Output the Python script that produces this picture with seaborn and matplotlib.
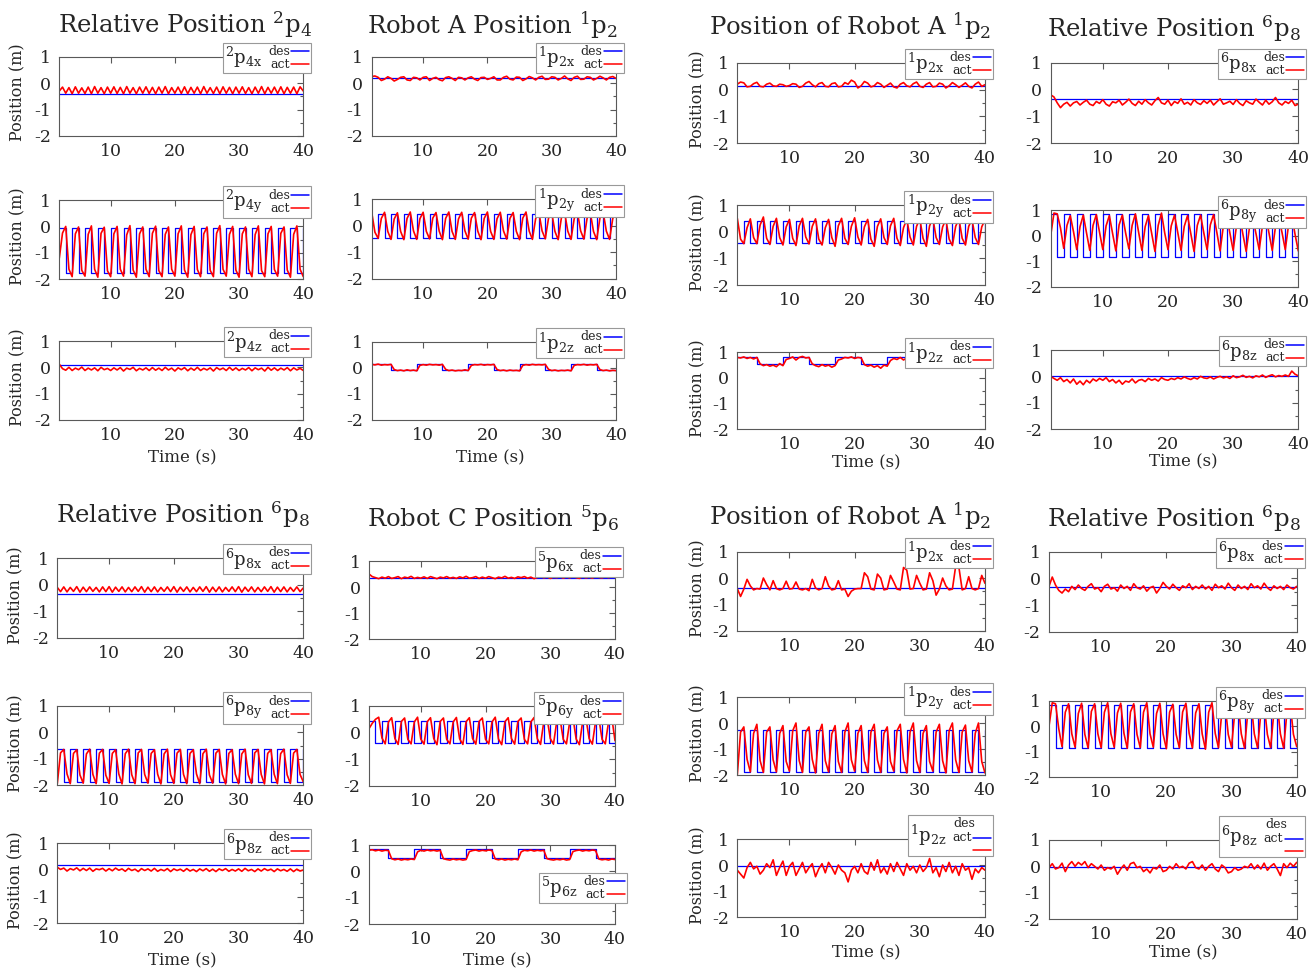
import matplotlib
matplotlib.use('Agg')
import matplotlib.pyplot as plt
import seaborn as sns
from matplotlib.ticker import MultipleLocator
from matplotlib.offsetbox import AnchoredOffsetbox, TextArea, HPacker, VPacker, DrawingArea
from matplotlib.lines import Line2D

sns.set_style('white')
plt.rcParams['font.family'] = 'DejaVu Serif'
plt.rcParams['mathtext.fontset'] = 'dejavuserif'
plt.rcParams['axes.unicode_minus'] = False

# ---------------- data ----------------
# sample times of the measured ("act") traces
t_act = [2.0, 2.5, 3.0, 3.5, 4.0, 4.5, 5.0, 5.5,
         6.0, 6.5, 7.0, 7.5, 8.0, 8.5, 9.0, 9.5,
         10.0, 10.5, 11.0, 11.5, 12.0, 12.5, 13.0, 13.5,
         14.0, 14.5, 15.0, 15.5, 16.0, 16.5, 17.0, 17.5,
         18.0, 18.5, 19.0, 19.5, 20.0, 20.5, 21.0, 21.5,
         22.0, 22.5, 23.0, 23.5, 24.0, 24.5, 25.0, 25.5,
         26.0, 26.5, 27.0, 27.5, 28.0, 28.5, 29.0, 29.5,
         30.0, 30.5, 31.0, 31.5, 32.0, 32.5, 33.0, 33.5,
         34.0, 34.5, 35.0, 35.5, 36.0, 36.5, 37.0, 37.5,
         38.0, 38.5, 39.0, 39.5, 40.0]
# switching times of the desired signals
t_sec = [2, 3, 4, 5, 6, 7, 8, 9, 10, 11, 12, 13, 14, 15, 16, 17, 18, 19, 20, 21,
         22, 23, 24, 25, 26, 27, 28, 29, 30, 31, 32, 33, 34, 35, 36, 37, 38, 39, 40]
t_z = [2, 5, 9, 13, 17, 21, 25, 29, 33, 37, 40]
t_flat = [2, 40]

# desired values
des_tl_2p4x = -0.42
des_tl_2p4y = [-0.05, -1.78, -0.05, -1.78, -0.05, -1.78, -0.05, -1.78, -0.05, -1.78,
               -0.05, -1.78, -0.05, -1.78, -0.05, -1.78, -0.05, -1.78, -0.05, -1.78,
               -0.05, -1.78, -0.05, -1.78, -0.05, -1.78, -0.05, -1.78, -0.05, -1.78,
               -0.05, -1.78, -0.05, -1.78, -0.05, -1.78, -0.05, -1.78, -0.05]
des_tl_2p4z = 0.07
des_tl_1p2x = 0.2
des_tl_1p2y = [-0.45, 0.42, -0.45, 0.42, -0.45, 0.42, -0.45, 0.42, -0.45, 0.42,
               -0.45, 0.42, -0.45, 0.42, -0.45, 0.42, -0.45, 0.42, -0.45, 0.42,
               -0.45, 0.42, -0.45, 0.42, -0.45, 0.42, -0.45, 0.42, -0.45, 0.42,
               -0.45, 0.42, -0.45, 0.42, -0.45, 0.42, -0.45, 0.42, -0.45]
des_tl_1p2z = [0.15, -0.08, 0.15, -0.08, 0.15, -0.08, 0.15, -0.08, 0.15, -0.08, -0.08]

des_tr_1p2x = 0.15
des_tr_1p2y = [-0.42, 0.41, -0.42, 0.41, -0.42, 0.41, -0.42, 0.41, -0.42, 0.41,
               -0.42, 0.41, -0.42, 0.41, -0.42, 0.41, -0.42, 0.41, -0.42, 0.41,
               -0.42, 0.41, -0.42, 0.41, -0.42, 0.41, -0.42, 0.41, -0.42, 0.41,
               -0.42, 0.41, -0.42, 0.41, -0.42, 0.41, -0.42, 0.41, -0.42]
des_tr_1p2z = [0.83, 0.54, 0.83, 0.54, 0.83, 0.54, 0.83, 0.54, 0.83, 0.54, 0.54]
des_tr_6p8x = -0.36
des_tr_6p8y = [0.83, -0.83, 0.83, -0.83, 0.83, -0.83, 0.83, -0.83, 0.83, -0.83,
               0.83, -0.83, 0.83, -0.83, 0.83, -0.83, 0.83, -0.83, 0.83, -0.83,
               0.83, -0.83, 0.83, -0.83, 0.83, -0.83, 0.83, -0.83, 0.83, -0.83,
               0.83, -0.83, 0.83, -0.83, 0.83, -0.83, 0.83, -0.83, 0.83]
des_tr_6p8z = 0.0

des_bl_6p8x = -0.33
des_bl_6p8y = [-0.65, -1.9, -0.65, -1.9, -0.65, -1.9, -0.65, -1.9, -0.65, -1.9,
               -0.65, -1.9, -0.65, -1.9, -0.65, -1.9, -0.65, -1.9, -0.65, -1.9,
               -0.65, -1.9, -0.65, -1.9, -0.65, -1.9, -0.65, -1.9, -0.65, -1.9,
               -0.65, -1.9, -0.65, -1.9, -0.65, -1.9, -0.65, -1.9, -0.65]
des_bl_6p8z = 0.2
des_bl_5p6x = 0.35
des_bl_5p6y = [0.44, -0.37, 0.44, -0.37, 0.44, -0.37, 0.44, -0.37, 0.44, -0.37,
               0.44, -0.37, 0.44, -0.37, 0.44, -0.37, 0.44, -0.37, 0.44, -0.37,
               0.44, -0.37, 0.44, -0.37, 0.44, -0.37, 0.44, -0.37, 0.44, -0.37,
               0.44, -0.37, 0.44, -0.37, 0.44, -0.37, 0.44, -0.37, 0.44]
des_bl_5p6z = [0.83, 0.51, 0.83, 0.51, 0.83, 0.51, 0.83, 0.51, 0.83, 0.51, 0.51]

des_br_1p2x = -0.38
des_br_1p2y = [-0.28, -1.9, -0.28, -1.9, -0.28, -1.9, -0.28, -1.9, -0.28, -1.9,
               -0.28, -1.9, -0.28, -1.9, -0.28, -1.9, -0.28, -1.9, -0.28, -1.9,
               -0.28, -1.9, -0.28, -1.9, -0.28, -1.9, -0.28, -1.9, -0.28, -1.9,
               -0.28, -1.9, -0.28, -1.9, -0.28, -1.9, -0.28, -1.9, -0.28]
des_br_1p2z = -0.04
des_br_6p8x = -0.31
des_br_6p8y = [0.84, -0.84, 0.84, -0.84, 0.84, -0.84, 0.84, -0.84, 0.84, -0.84,
               0.84, -0.84, 0.84, -0.84, 0.84, -0.84, 0.84, -0.84, 0.84, -0.84,
               0.84, -0.84, 0.84, -0.84, 0.84, -0.84, 0.84, -0.84, 0.84, -0.84,
               0.84, -0.84, 0.84, -0.84, 0.84, -0.84, 0.84, -0.84, 0.84]
des_br_6p8z = -0.04

# measured values
act_tl_2p4x = [-0.30, -0.15, -0.38, -0.17, -0.40, -0.14, -0.38, -0.18,
               -0.39, -0.15, -0.40, -0.13, -0.38, -0.17, -0.40, -0.15,
               -0.38, -0.14, -0.39, -0.16, -0.40, -0.13, -0.38, -0.17,
               -0.40, -0.15, -0.38, -0.14, -0.39, -0.16, -0.40, -0.15,
               -0.38, -0.13, -0.40, -0.17, -0.38, -0.15, -0.39, -0.14,
               -0.40, -0.16, -0.38, -0.15, -0.40, -0.13, -0.38, -0.17,
               -0.39, -0.15, -0.40, -0.14, -0.38, -0.16, -0.40, -0.15,
               -0.38, -0.14, -0.39, -0.17, -0.40, -0.15, -0.38, -0.13,
               -0.40, -0.16, -0.38, -0.15, -0.39, -0.14, -0.40, -0.16,
               -0.38, -0.15, -0.40, -0.14, -0.30]
act_tl_2p4y = [-1.20, -0.25, 0.00, -1.62, -1.90, -0.28, -0.02, -1.66,
               -1.88, -0.30, 0.02, -1.62, -1.92, -0.26, -0.03, -1.68,
               -1.90, -0.28, 0.00, -1.62, -1.88, -0.32, 0.03, -1.65,
               -1.92, -0.28, -0.02, -1.62, -1.90, -0.26, 0.01, -1.67,
               -1.90, -0.30, -0.02, -1.62, -1.88, -0.28, 0.02, -1.65,
               -1.92, -0.31, 0.00, -1.63, -1.90, -0.28, -0.02, -1.66,
               -1.90, -0.26, 0.03, -1.62, -1.88, -0.30, 0.00, -1.65,
               -1.92, -0.28, -0.02, -1.62, -1.90, -0.31, 0.02, -1.67,
               -1.90, -0.28, 0.00, -1.63, -1.88, -0.26, -0.02, -1.65,
               -1.92, -0.30, 0.02, -1.62, -1.90]
act_tl_2p4z = [0.12, -0.05, -0.11, 0.00, -0.12, -0.03, -0.09, 0.01,
               -0.12, -0.03, -0.10, -0.02, -0.13, 0.00, -0.09, -0.04,
               -0.12, -0.02, -0.10, -0.01, -0.14, -0.03, -0.08, 0.00,
               -0.13, -0.04, -0.10, -0.02, -0.12, -0.01, -0.11, -0.03,
               -0.12, 0.00, -0.10, -0.03, -0.14, -0.02, -0.09, -0.01,
               -0.13, -0.03, -0.11, 0.00, -0.12, -0.04, -0.10, -0.02,
               -0.14, -0.01, -0.09, -0.03, -0.12, 0.00, -0.11, -0.02,
               -0.12, -0.04, -0.10, -0.01, -0.13, -0.02, -0.09, -0.03,
               -0.14, 0.00, -0.11, -0.02, -0.12, -0.03, -0.10, -0.01,
               -0.13, -0.02, -0.10, -0.04, -0.12]
act_tl_1p2x = [0.25, 0.27, 0.22, 0.10, 0.15, 0.24, 0.18, 0.08,
               0.14, 0.22, 0.24, 0.12, 0.10, 0.22, 0.20, 0.12,
               0.22, 0.24, 0.10, 0.18, 0.22, 0.13, 0.09, 0.21,
               0.24, 0.18, 0.10, 0.22, 0.20, 0.12, 0.20, 0.24,
               0.15, 0.10, 0.21, 0.22, 0.14, 0.18, 0.24, 0.12,
               0.12, 0.22, 0.26, 0.15, 0.12, 0.23, 0.22, 0.10,
               0.16, 0.25, 0.20, 0.12, 0.22, 0.26, 0.14, 0.15,
               0.24, 0.22, 0.12, 0.18, 0.27, 0.16, 0.10, 0.22,
               0.26, 0.14, 0.15, 0.24, 0.22, 0.12, 0.18, 0.26,
               0.20, 0.12, 0.22, 0.25, 0.18]
act_tl_1p2y = [0.50, -0.25, -0.48, 0.27, 0.50, -0.22, -0.52, 0.25,
               0.48, -0.22, -0.53, 0.27, 0.51, -0.20, -0.52, 0.26,
               0.50, -0.22, -0.50, 0.28, 0.49, -0.21, -0.53, 0.27,
               0.51, -0.22, -0.52, 0.25, 0.50, -0.20, -0.51, 0.28,
               0.49, -0.21, -0.53, 0.27, 0.51, -0.22, -0.52, 0.26,
               0.50, -0.20, -0.51, 0.27, 0.49, -0.22, -0.53, 0.28,
               0.51, -0.21, -0.52, 0.26, 0.50, -0.20, -0.50, 0.27,
               0.49, -0.22, -0.53, 0.28, 0.51, -0.21, -0.52, 0.26,
               0.50, -0.20, -0.51, 0.27, 0.49, -0.22, -0.53, 0.28,
               0.51, -0.21, -0.52, 0.27, 0.50]
act_tl_1p2z = [0.14, 0.12, 0.15, 0.11, 0.13, 0.12, 0.14, -0.06,
               -0.10, -0.08, -0.11, -0.07, -0.10, -0.08, -0.11, 0.10,
               0.13, 0.11, 0.14, 0.12, 0.13, 0.11, 0.14, -0.05,
               -0.10, -0.08, -0.11, -0.09, -0.10, -0.07, -0.10, 0.10,
               0.13, 0.12, 0.14, 0.11, 0.13, 0.12, 0.14, -0.06,
               -0.10, -0.08, -0.11, -0.08, -0.10, -0.09, -0.11, 0.10,
               0.13, 0.11, 0.14, 0.12, 0.13, 0.12, 0.14, -0.05,
               -0.10, -0.08, -0.11, -0.09, -0.10, -0.08, -0.11, 0.10,
               0.13, 0.12, 0.14, 0.11, 0.13, 0.12, 0.14, -0.06,
               -0.10, -0.08, -0.11, -0.09, -0.10]

act_tr_1p2x = [0.20, 0.28, 0.25, 0.10, 0.12, 0.22, 0.27, 0.12,
               0.10, 0.20, 0.24, 0.14, 0.12, 0.20, 0.18, 0.12,
               0.15, 0.22, 0.20, 0.08, 0.12, 0.24, 0.30, 0.18,
               0.10, 0.22, 0.26, 0.12, 0.10, 0.22, 0.25, 0.10,
               0.12, 0.26, 0.20, 0.35, 0.28, 0.06, 0.14, 0.30,
               0.24, 0.10, 0.14, 0.26, 0.20, 0.08, 0.16, 0.24,
               0.10, 0.06, 0.20, 0.26, 0.14, 0.10, 0.22, 0.28,
               0.12, 0.08, 0.20, 0.26, 0.10, 0.12, 0.24, 0.20,
               0.06, 0.14, 0.26, 0.18, 0.08, 0.16, 0.25, 0.12,
               0.06, 0.20, 0.28, 0.12, 0.18]
act_tr_1p2y = [0.50, -0.28, -0.45, 0.15, 0.48, -0.22, -0.45, 0.25,
               0.55, -0.25, -0.48, 0.20, 0.50, -0.22, -0.50, 0.18,
               0.46, -0.25, -0.52, 0.22, 0.50, -0.20, -0.46, 0.20,
               0.48, -0.28, -0.50, 0.15, 0.46, -0.22, -0.55, 0.22,
               0.50, -0.25, -0.48, 0.20, 0.52, -0.20, -0.50, 0.18,
               0.46, -0.28, -0.55, 0.20, 0.48, -0.22, -0.48, 0.22,
               0.50, -0.25, -0.52, 0.15, 0.46, -0.20, -0.50, 0.20,
               0.48, -0.25, -0.55, 0.22, 0.50, -0.22, -0.48, 0.18,
               0.46, -0.28, -0.52, 0.20, 0.48, -0.25, -0.50, 0.20,
               0.46, -0.22, -0.48, 0.18, 0.45]
act_tr_1p2z = [0.80, 0.78, 0.82, 0.76, 0.80, 0.74, 0.80, 0.55,
               0.48, 0.52, 0.46, 0.50, 0.44, 0.56, 0.48, 0.72,
               0.76, 0.82, 0.70, 0.80, 0.84, 0.78, 0.80, 0.55,
               0.48, 0.44, 0.52, 0.46, 0.50, 0.42, 0.48, 0.70,
               0.74, 0.80, 0.78, 0.82, 0.76, 0.80, 0.78, 0.52,
               0.46, 0.50, 0.42, 0.48, 0.38, 0.50, 0.46, 0.68,
               0.76, 0.72, 0.80, 0.70, 0.78, 0.74, 0.80, 0.52,
               0.46, 0.50, 0.42, 0.52, 0.40, 0.50, 0.46, 0.70,
               0.78, 0.72, 0.80, 0.76, 0.82, 0.72, 0.78, 0.55,
               0.44, 0.52, 0.46, 0.50, 0.44]
act_tr_6p8x = [-0.20, -0.28, -0.50, -0.68, -0.55, -0.48, -0.62, -0.50,
               -0.45, -0.58, -0.48, -0.40, -0.55, -0.60, -0.45, -0.52,
               -0.38, -0.55, -0.62, -0.46, -0.50, -0.40, -0.58, -0.48,
               -0.36, -0.52, -0.60, -0.44, -0.55, -0.38, -0.50, -0.58,
               -0.42, -0.30, -0.50, -0.55, -0.40, -0.60, -0.45, -0.52,
               -0.35, -0.55, -0.48, -0.58, -0.38, -0.50, -0.56, -0.42,
               -0.52, -0.40, -0.58, -0.46, -0.35, -0.55, -0.50, -0.44,
               -0.56, -0.38, -0.52, -0.60, -0.42, -0.50, -0.55, -0.36,
               -0.48, -0.58, -0.40, -0.55, -0.46, -0.30, -0.50, -0.58,
               -0.45, -0.52, -0.40, -0.60, -0.55]
act_tr_6p8y = [0.00, 0.88, 0.85, 0.30, -0.50, 0.40, 0.78, 0.15,
               -0.55, 0.35, 0.80, 0.10, -0.58, 0.40, 0.82, 0.12,
               -0.55, 0.38, 0.78, 0.08, -0.60, 0.42, 0.80, 0.10,
               -0.52, 0.40, 0.85, 0.12, -0.58, 0.35, 0.78, 0.08,
               -0.62, 0.40, 0.88, 0.10, -0.55, 0.38, 0.80, 0.12,
               -0.58, 0.36, 0.78, 0.08, -0.62, 0.40, 0.80, 0.10,
               -0.55, 0.42, 0.82, 0.12, -0.60, 0.38, 0.78, 0.10,
               -0.58, 0.35, 0.75, 0.05, -0.62, 0.30, 0.72, 0.08,
               -0.55, 0.38, 0.80, 0.10, -0.58, 0.35, 0.72, 0.12,
               -0.55, 0.40, 0.78, 0.05, -0.60]
act_tr_6p8z = [0.00, -0.08, -0.15, -0.05, -0.20, -0.12, -0.25, -0.10,
               -0.30, -0.18, -0.32, -0.15, -0.25, -0.10, -0.18, -0.08,
               -0.15, -0.05, -0.20, -0.12, -0.25, -0.15, -0.30, -0.18,
               -0.22, -0.10, -0.25, -0.15, -0.12, -0.20, -0.08, -0.15,
               -0.10, -0.18, -0.05, -0.12, -0.15, -0.08, -0.12, -0.05,
               -0.10, -0.02, -0.08, -0.12, -0.05, -0.10, 0.00, -0.06,
               -0.08, -0.02, -0.10, -0.04, 0.00, -0.06, -0.02, -0.08,
               0.02, -0.05, -0.02, 0.04, -0.04, 0.00, -0.06, 0.02,
               -0.02, 0.05, -0.04, 0.02, 0.06, -0.02, 0.03, 0.00,
               0.05, 0.00, 0.20, 0.08, 0.02]

act_bl_6p8x = [-0.10, -0.26, -0.08, -0.27, -0.10, -0.25, -0.07, -0.28,
               -0.09, -0.26, -0.08, -0.25, -0.10, -0.27, -0.08, -0.26,
               -0.07, -0.28, -0.09, -0.25, -0.08, -0.27, -0.10, -0.26,
               -0.08, -0.25, -0.07, -0.28, -0.09, -0.26, -0.08, -0.27,
               -0.10, -0.25, -0.08, -0.26, -0.07, -0.28, -0.09, -0.25,
               -0.08, -0.27, -0.10, -0.26, -0.08, -0.25, -0.07, -0.28,
               -0.09, -0.26, -0.08, -0.27, -0.10, -0.25, -0.08, -0.26,
               -0.07, -0.28, -0.09, -0.25, -0.08, -0.27, -0.10, -0.26,
               -0.08, -0.25, -0.07, -0.28, -0.09, -0.26, -0.08, -0.27,
               -0.10, -0.25, -0.08, -0.26, -0.12]
act_bl_6p8y = [-1.95, -0.78, -0.65, -1.58, -1.95, -0.80, -0.66, -1.62,
               -1.93, -0.82, -0.64, -1.60, -1.95, -0.79, -0.65, -1.63,
               -1.94, -0.80, -0.66, -1.58, -1.96, -0.81, -0.64, -1.61,
               -1.95, -0.78, -0.65, -1.60, -1.93, -0.80, -0.66, -1.59,
               -1.96, -0.82, -0.64, -1.61, -1.94, -0.79, -0.65, -1.60,
               -1.95, -0.80, -0.66, -1.58, -1.95, -0.81, -0.64, -1.62,
               -1.93, -0.79, -0.65, -1.60, -1.96, -0.80, -0.66, -1.59,
               -1.95, -0.82, -0.64, -1.61, -1.94, -0.78, -0.65, -1.60,
               -1.96, -0.80, -0.66, -1.59, -1.95, -0.81, -0.64, -1.61,
               -1.94, -0.79, -0.65, -1.60, -1.88]
act_bl_6p8z = [0.10, 0.02, 0.07, -0.04, 0.05, 0.00, 0.08, -0.03,
               0.06, -0.02, 0.07, -0.05, 0.04, 0.01, 0.06, -0.04,
               0.05, -0.03, 0.07, -0.01, 0.04, -0.05, 0.06, -0.02,
               0.03, -0.06, 0.05, -0.02, 0.04, -0.04, 0.06, -0.05,
               0.02, -0.03, 0.05, -0.06, 0.04, -0.02, 0.03, -0.05,
               0.05, -0.04, 0.02, -0.06, 0.04, -0.03, 0.05, -0.05,
               0.03, -0.06, 0.04, -0.02, 0.05, -0.05, 0.02, -0.04,
               0.04, -0.05, 0.06, -0.03, 0.02, -0.06, 0.04, -0.04,
               0.05, -0.02, 0.03, -0.06, 0.04, -0.03, 0.02, -0.05,
               0.04, -0.06, 0.03, -0.04, 0.00]
act_bl_5p6x = [0.50, 0.40, 0.36, 0.32, 0.38, 0.34, 0.40, 0.33,
               0.36, 0.40, 0.32, 0.38, 0.35, 0.41, 0.33, 0.37,
               0.34, 0.39, 0.33, 0.40, 0.36, 0.32, 0.38, 0.35,
               0.40, 0.34, 0.37, 0.33, 0.39, 0.35, 0.41, 0.34,
               0.36, 0.40, 0.33, 0.38, 0.34, 0.40, 0.36, 0.32,
               0.38, 0.35, 0.41, 0.34, 0.37, 0.33, 0.39, 0.36,
               0.40, 0.34, 0.38, 0.32, 0.37, 0.41, 0.35, 0.39,
               0.33, 0.38, 0.36, 0.40, 0.34, 0.39, 0.35, 0.41,
               0.36, 0.33, 0.40, 0.35, 0.38, 0.34, 0.41, 0.37,
               0.35, 0.40, 0.36, 0.39, 0.37]
act_bl_5p6y = [0.15, 0.35, 0.50, 0.58, -0.20, -0.42, 0.40, 0.56,
               -0.22, -0.44, 0.42, 0.55, -0.25, -0.42, 0.40, 0.58,
               -0.24, -0.43, 0.41, 0.56, -0.22, -0.45, 0.42, 0.55,
               -0.25, -0.42, 0.40, 0.57, -0.23, -0.44, 0.41, 0.56,
               -0.22, -0.43, 0.42, 0.55, -0.25, -0.42, 0.40, 0.58,
               -0.24, -0.45, 0.41, 0.56, -0.22, -0.43, 0.42, 0.55,
               -0.25, -0.42, 0.40, 0.57, -0.23, -0.44, 0.41, 0.56,
               -0.22, -0.43, 0.42, 0.55, -0.25, -0.42, 0.40, 0.58,
               -0.24, -0.45, 0.41, 0.56, -0.22, -0.43, 0.42, 0.55,
               -0.25, -0.42, 0.40, 0.57, -0.30]
act_bl_5p6z = [0.80, 0.82, 0.78, 0.81, 0.77, 0.80, 0.79, 0.48,
               0.44, 0.47, 0.43, 0.46, 0.44, 0.47, 0.45, 0.74,
               0.80, 0.77, 0.81, 0.78, 0.80, 0.77, 0.80, 0.48,
               0.45, 0.43, 0.47, 0.44, 0.46, 0.43, 0.45, 0.75,
               0.79, 0.81, 0.77, 0.80, 0.78, 0.81, 0.79, 0.47,
               0.44, 0.47, 0.43, 0.46, 0.44, 0.47, 0.44, 0.74,
               0.80, 0.78, 0.81, 0.77, 0.80, 0.78, 0.80, 0.48,
               0.45, 0.43, 0.46, 0.44, 0.47, 0.43, 0.45, 0.75,
               0.79, 0.81, 0.77, 0.80, 0.78, 0.81, 0.79, 0.47,
               0.44, 0.46, 0.43, 0.47, 0.45]

act_br_1p2x = [-0.40, -0.70, -0.42, -0.05, -0.30, -0.45, -0.40, -0.42,
               0.00, -0.25, -0.45, -0.10, -0.40, -0.45, -0.40, -0.12,
               -0.42, -0.40, -0.15, -0.42, -0.45, -0.40, -0.48, -0.05,
               -0.38, -0.45, -0.40, 0.05, -0.30, -0.45, -0.42, -0.10,
               -0.45, -0.42, -0.70, -0.50, -0.42, -0.40, -0.40, 0.20,
               0.05, -0.42, -0.45, 0.15, 0.00, -0.45, -0.42, 0.10,
               -0.15, -0.42, -0.45, 0.40, 0.30, -0.42, -0.40, 0.10,
               -0.20, -0.45, -0.42, 0.20, -0.10, -0.65, -0.42, 0.00,
               -0.30, -0.45, -0.42, 0.45, 0.40, -0.45, -0.40, 0.05,
               -0.40, -0.45, -0.40, 0.10, -0.20]
act_br_1p2y = [-2.00, -0.35, -0.15, -1.40, -1.88, -0.40, -0.05, -1.45,
               -1.90, -0.35, -0.15, -1.42, -1.88, -0.40, -0.10, -1.48,
               -1.85, -0.30, 0.00, -1.45, -1.90, -0.35, -0.15, -1.40,
               -1.92, -0.40, -0.05, -1.45, -1.88, -0.42, -0.10, -1.48,
               -1.90, -0.35, 0.00, -1.42, -1.85, -0.40, -0.10, -1.45,
               -1.90, -0.35, -0.05, -1.42, -1.90, -0.40, -0.15, -1.48,
               -1.85, -0.30, -0.05, -1.40, -1.92, -0.35, 0.00, -1.45,
               -1.90, -0.40, -0.10, -1.48, -1.85, -0.35, -0.05, -1.45,
               -1.92, -0.30, 0.00, -1.42, -1.90, -0.35, -0.08, -1.45,
               -1.88, -0.40, 0.00, -1.48, -1.92]
act_br_1p2z = [-0.20, -0.35, -0.50, -0.10, 0.10, -0.15, -0.05, -0.35,
               -0.20, 0.05, -0.10, 0.20, -0.40, -0.10, 0.15, -0.40,
               -0.05, 0.10, -0.40, -0.15, 0.10, -0.30, -0.10, 0.05,
               -0.45, -0.15, 0.05, -0.30, 0.10, -0.10, -0.35, 0.00,
               -0.20, -0.30, -0.65, -0.20, -0.05, -0.30, 0.05, -0.25,
               -0.35, 0.10, -0.20, 0.20, -0.30, -0.10, -0.35, 0.05,
               -0.25, 0.10, -0.15, -0.40, 0.05, -0.20, -0.05, -0.30,
               0.00, -0.25, -0.10, 0.25, -0.30, -0.10, -0.45, 0.00,
               -0.25, 0.10, -0.30, -0.05, -0.40, 0.05, -0.20, -0.10,
               -0.55, -0.15, -0.30, -0.10, -0.20]
act_br_6p8x = [-0.30, 0.05, -0.25, -0.45, -0.55, -0.40, -0.50, -0.30,
               -0.42, -0.25, -0.38, -0.45, -0.30, -0.20, -0.40, -0.35,
               -0.50, -0.30, -0.22, -0.40, -0.35, -0.48, -0.25, -0.38,
               -0.30, -0.45, -0.20, -0.35, -0.40, -0.28, -0.48, -0.35,
               -0.30, -0.55, -0.38, -0.15, -0.30, -0.40, -0.22, -0.35,
               -0.45, -0.28, -0.35, -0.20, -0.42, -0.30, -0.38, -0.25,
               -0.40, -0.30, -0.45, -0.22, -0.35, -0.28, -0.40, -0.18,
               -0.35, -0.45, -0.25, -0.38, -0.30, -0.42, -0.20, -0.35,
               -0.28, -0.40, -0.18, -0.35, -0.45, -0.28, -0.38, -0.30,
               -0.42, -0.25, -0.35, -0.40, -0.30]
act_br_6p8y = [0.00, 0.92, 0.88, -0.10, -0.80, 0.55, 0.88, -0.30,
               -0.82, 0.50, 0.90, -0.32, -0.85, 0.58, 0.88, -0.30,
               -0.84, 0.55, 0.92, -0.30, -0.82, 0.52, 0.90, -0.28,
               -0.86, 0.56, 0.88, -0.32, -0.84, 0.55, 0.92, -0.30,
               -0.82, 0.50, 0.90, -0.30, -0.88, 0.55, 0.86, -0.32,
               -0.84, 0.56, 0.90, -0.28, -0.85, 0.52, 0.88, -0.30,
               -0.90, 0.55, 0.92, -0.28, -0.84, 0.50, 0.88, -0.32,
               -0.82, 0.55, 0.90, -0.30, -0.86, 0.56, 0.92, -0.30,
               -0.85, 0.52, 0.88, -0.32, -0.84, 0.55, 0.90, -0.30,
               -0.86, 0.55, 0.88, -0.32, -0.80]
act_br_6p8z = [-0.05, 0.10, -0.10, -0.05, 0.12, -0.20, 0.05, 0.18,
               0.00, 0.15, 0.05, 0.18, -0.05, 0.10, 0.00, -0.10,
               0.05, -0.15, -0.05, -0.10, 0.00, -0.30, -0.10, 0.05,
               -0.15, 0.10, 0.15, -0.05, 0.00, -0.20, -0.10, -0.25,
               -0.05, -0.10, 0.05, -0.20, -0.15, 0.00, -0.10, 0.10,
               -0.05, 0.00, -0.10, 0.12, 0.18, -0.05, -0.10, 0.05,
               -0.15, 0.00, 0.10, -0.10, -0.20, 0.05, -0.05, -0.25,
               -0.20, -0.05, -0.15, -0.10, 0.00, -0.05, 0.10, -0.10,
               0.05, -0.10, 0.12, -0.15, 0.00, 0.10, -0.10, -0.35,
               0.10, -0.05, 0.12, 0.00, 0.15]

# ---------------- layout (pixels of the 1315x973 picture) ----------------
W, H = 1315, 973
fig = plt.figure(figsize=(W / 100, H / 100), dpi=100)
fig.patch.set_facecolor('white')


def px_rect(l, t, r, b):
    return [l / W, 1 - b / H, (r - l) / W, (b - t) / H]


def line_sample(color):
    da = DrawingArea(13, 6, 0, 0)
    da.add_artist(Line2D([0, 13], [3, 3], color=color, lw=1.1))
    return da


def add_legend(ax, label, w, h, kind='top'):
    small = dict(fontsize=9, family='DejaVu Serif')
    lab = TextArea(label, textprops=dict(fontsize=13))
    if kind == 'odd':
        rows = VPacker(children=[
            HPacker(children=[TextArea('des', textprops=small), DrawingArea(11, 4)], sep=0, pad=0),
            HPacker(children=[TextArea('act', textprops=small), line_sample('blue')], sep=1, pad=0, align='center'),
            HPacker(children=[DrawingArea(14, 4), line_sample('red')], sep=1, pad=0, align='center'),
        ], sep=1, pad=0, align='right')
        anchor = (1 + 8 / w, 1 + 24 / h)
    else:
        rows = VPacker(children=[
            HPacker(children=[TextArea('des', textprops=small), line_sample('blue')], sep=1, pad=0, align='center'),
            HPacker(children=[TextArea('act', textprops=small), line_sample('red')], sep=1, pad=0, align='center'),
        ], sep=0, pad=0, align='right')
        if kind == 'inside':
            anchor = (1 + 11.7 / w, 1 - 27.7 / h)
        else:
            anchor = (1 + 8 / w, 1 + 14 / h)
    content = HPacker(children=[lab, rows], sep=4, pad=0, align='center')
    box = AnchoredOffsetbox(loc='upper right', child=content, pad=0.15, borderpad=0,
                            frameon=True, bbox_to_anchor=anchor, bbox_transform=ax.transAxes)
    box.patch.set_boxstyle('square', pad=0)
    box.patch.set_edgecolor('0.6')
    box.patch.set_linewidth(0.8)
    box.set_zorder(10)
    box.set_clip_on(False)
    ax.add_artist(box)


def draw_panel(rect, t_des, des, act, label, kind='top'):
    l, t, r, b = rect
    ax = fig.add_axes(px_rect(l, t, r, b))
    sns.lineplot(x=t_des, y=des, ax=ax, color='#0000ff', lw=0.9, drawstyle='steps-post')
    sns.lineplot(x=t_act, y=act, ax=ax, color='#ff0000', lw=1.2)
    ax.set_xlim(2, 40)
    ax.set_ylim(-2, 1)
    ax.set_xticks([10, 20, 30, 40])
    ax.set_yticks([-2, -1, 0, 1])
    ax.yaxis.set_minor_locator(MultipleLocator(0.5))
    ax.tick_params(which='both', direction='in', top=True, right=True, color='0.35', width=0.8)
    ax.tick_params(which='major', length=4, labelsize=12.5)
    ax.tick_params(which='minor', length=2.5)
    ax.tick_params(axis='y', pad=6)
    ax.tick_params(axis='x', pad=5)
    ax.set_xlabel('')
    ax.set_ylabel('')
    for s in ax.spines.values():
        s.set_color('0.35')
        s.set_linewidth(0.8)
    add_legend(ax, label, r - l, b - t, kind)
    return ax


def lab(pre, sub, comp):
    return r'${}^{%s}\mathrm{p}_{%s\mathrm{%s}}$' % (pre, sub, comp)


def ttl(text, pre, sub):
    return text + r' ${}^{%s}\mathrm{p}_{%s}$' % (pre, sub)


def flat(v):
    return [v, v]


# top left group
draw_panel((59.3, 56.7, 303.3, 136), t_flat, flat(des_tl_2p4x), act_tl_2p4x, lab('2', '4', 'x'))
draw_panel((59.3, 200, 303.3, 279.3), t_sec, des_tl_2p4y, act_tl_2p4y, lab('2', '4', 'y'))
draw_panel((59.3, 341, 303.3, 420), t_flat, flat(des_tl_2p4z), act_tl_2p4z, lab('2', '4', 'z'))
draw_panel((371.7, 56.7, 616, 136), t_flat, flat(des_tl_1p2x), act_tl_1p2x, lab('1', '2', 'x'))
draw_panel((371.7, 199, 616, 278.7), t_sec, des_tl_1p2y, act_tl_1p2y, lab('1', '2', 'y'))
draw_panel((371.7, 342, 616, 420), t_z, des_tl_1p2z, act_tl_1p2z, lab('1', '2', 'z'))

# top right group
draw_panel((737.3, 62.7, 985, 143.3), t_flat, flat(des_tr_1p2x), act_tr_1p2x, lab('1', '2', 'x'))
draw_panel((737.3, 205, 985, 285), t_sec, des_tr_1p2y, act_tr_1p2y, lab('1', '2', 'y'))
draw_panel((737.3, 352.3, 985, 429.3), t_z, des_tr_1p2z, act_tr_1p2z, lab('1', '2', 'z'))
draw_panel((1050.7, 62.7, 1298.3, 143), t_flat, flat(des_tr_6p8x), act_tr_6p8x, lab('6', '8', 'x'))
draw_panel((1050.7, 210, 1298.3, 286.7), t_sec, des_tr_6p8y, act_tr_6p8y, lab('6', '8', 'y'))
draw_panel((1050.7, 350, 1298.3, 429), t_flat, flat(des_tr_6p8z), act_tr_6p8z, lab('6', '8', 'z'))

# bottom left group
draw_panel((57.3, 558.3, 303.3, 637.7), t_flat, flat(des_bl_6p8x), act_bl_6p8x, lab('6', '8', 'x'))
draw_panel((57.3, 706, 303.3, 785), t_sec, des_bl_6p8y, act_bl_6p8y, lab('6', '8', 'y'))
draw_panel((57.3, 843.3, 303.3, 923.3), t_flat, flat(des_bl_6p8z), act_bl_6p8z, lab('6', '8', 'z'))
draw_panel((369, 561, 615, 639), t_flat, flat(des_bl_5p6x), act_bl_5p6x, lab('5', '6', 'x'))
draw_panel((369, 706, 615, 786), t_sec, des_bl_5p6y, act_bl_5p6y, lab('5', '6', 'y'))
draw_panel((369, 845, 615, 924.3), t_z, des_bl_5p6z, act_bl_5p6z, lab('5', '6', 'z'), kind='inside')

# bottom right group
draw_panel((737.3, 551.7, 985, 630.7), t_flat, flat(des_br_1p2x), act_br_1p2x, lab('1', '2', 'x'))
draw_panel((737.3, 697, 985, 775), t_sec, des_br_1p2y, act_br_1p2y, lab('1', '2', 'y'))
draw_panel((737.3, 839, 985, 917), t_flat, flat(des_br_1p2z), act_br_1p2z, lab('1', '2', 'z'), kind='odd')
draw_panel((1049, 551.7, 1296.7, 631.7), t_flat, flat(des_br_6p8x), act_br_6p8x, lab('6', '8', 'x'))
draw_panel((1049, 700.7, 1296.7, 777.3), t_sec, des_br_6p8y, act_br_6p8y, lab('6', '8', 'y'))
draw_panel((1049, 840, 1296.7, 919), t_flat, flat(des_br_6p8z), act_br_6p8z, lab('6', '8', 'z'), kind='odd')

# titles
titles = [(185, 32.7, ttl('Relative Position', '2', '4')),
          (492, 33.3, ttl('Robot A Position', '1', '2')),
          (850, 35, ttl('Position of Robot A', '1', '2')),
          (1174, 37.3, ttl('Relative Position', '6', '8')),
          (182.5, 523.3, ttl('Relative Position', '6', '8')),
          (493, 527, ttl('Robot C Position', '5', '6')),
          (850, 525, ttl('Position of Robot A', '1', '2')),
          (1174, 527.3, ttl('Relative Position', '6', '8'))]
for x, y, s in titles:
    fig.text(x / W, 1 - y / H, s, ha='center', va='baseline', fontsize=17.5)

# y labels
for x, y in [(18, 92), (18, 236), (18, 377), (698, 99), (698, 242), (698, 388),
             (16, 595), (16, 743), (16, 880), (698, 588), (698, 733), (698, 875)]:
    fig.text(x / W, 1 - y / H, 'Position (m)', rotation=90, ha='center', va='center', fontsize=11.5)

# x labels
for x, y in [(182, 458), (490, 458), (866, 463), (1183, 462),
             (182, 961), (497, 961), (866, 953), (1183, 953)]:
    fig.text(x / W, 1 - y / H, 'Time (s)', ha='center', va='center', fontsize=12)

fig.savefig('out.png', dpi=100, facecolor='white')
